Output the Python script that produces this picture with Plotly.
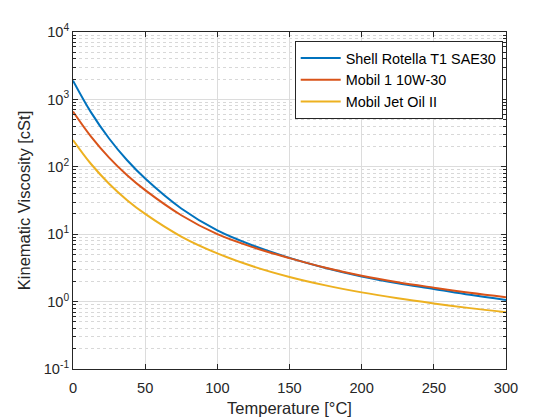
import plotly.graph_objects as go

temperature_c = [0, 12.5, 25, 37.5, 50, 75, 100, 125, 150, 175, 200, 225, 250, 275, 300]
shell_rotella = [1900, 642, 263, 125, 67, 24.1, 11.4, 6.75, 4.45, 3.15, 2.36, 1.87, 1.54, 1.26, 1.06]
mobil1_10w30 = [660, 280, 137, 75, 45, 19.1, 10.0, 6.37, 4.42, 3.18, 2.42, 1.94, 1.61, 1.35, 1.16]
mobil_jet_oil = [250, 110, 56.2, 32, 20, 9.24, 5.2, 3.31, 2.32, 1.74, 1.37, 1.12, 0.94, 0.80, 0.695]

series_names = ["Shell Rotella T1 SAE30", "Mobil 1 10W-30", "Mobil Jet Oil II"]
series_colors = ["#0072BD", "#D95319", "#EDB120"]

x_ticks = [0, 50, 100, 150, 200, 250, 300]
y_tickvals = [0.1, 1, 10, 100, 1000, 10000]
y_ticktext = ["10<sup>-1</sup>", "10<sup>0</sup>", "10<sup>1</sup>",
              "10<sup>2</sup>", "10<sup>3</sup>", "10<sup>4</sup>"]

FONT = "Liberation Sans, Arial, sans-serif"
AX = "#262626"
GRID = "#dcdcdc"

fig = go.Figure()
for name, vals, col in zip(series_names, [shell_rotella, mobil1_10w30, mobil_jet_oil], series_colors):
    fig.add_trace(go.Scatter(x=temperature_c, y=vals, mode="lines", name=name,
                             line=dict(color=col, width=2, shape="spline", smoothing=1.0)))

fig.update_layout(
    width=560, height=420,
    margin=dict(l=73, r=54, t=32, b=51),
    paper_bgcolor="white", plot_bgcolor="white",
    font=dict(family=FONT, size=14.6, color=AX),
    showlegend=True,
    legend=dict(x=0.9924, y=0.973, xanchor="right", yanchor="top",
                bgcolor="white", bordercolor=AX, borderwidth=1,
                font=dict(family=FONT, size=14.4, color="black"),
                tracegroupgap=0, itemwidth=40),
)

fig.update_xaxes(
    range=[0, 300], tickvals=x_ticks, ticks="inside", ticklen=5, tickcolor=AX,
    showline=True, linecolor=AX, linewidth=1, mirror="ticks",
    showgrid=True, gridcolor=GRID, gridwidth=1, zeroline=False, automargin=False,
    tickfont=dict(size=14.6, color=AX), ticklabelstandoff=5,
    title=dict(text="Temperature [°C]", font=dict(size=16.5, color=AX), standoff=7),
)
fig.update_yaxes(
    type="log", range=[-1, 4], tickvals=y_tickvals, ticktext=y_ticktext,
    ticks="inside", ticklen=5, tickcolor=AX, automargin=False,
    showline=True, linecolor=AX, linewidth=1, mirror="ticks",
    showgrid=True, gridcolor=GRID, gridwidth=1, zeroline=False,
    tickfont=dict(size=14.6, color=AX),
    minor=dict(dtick="D1", ticks="inside", ticklen=3, tickcolor=AX,
               showgrid=True, gridcolor="#d8d8d8", griddash="dot", gridwidth=1),
    title=dict(text="Kinematic Viscosity [cSt]", font=dict(size=16.5, color=AX), standoff=8),
)

fig.write_html("out.html")
